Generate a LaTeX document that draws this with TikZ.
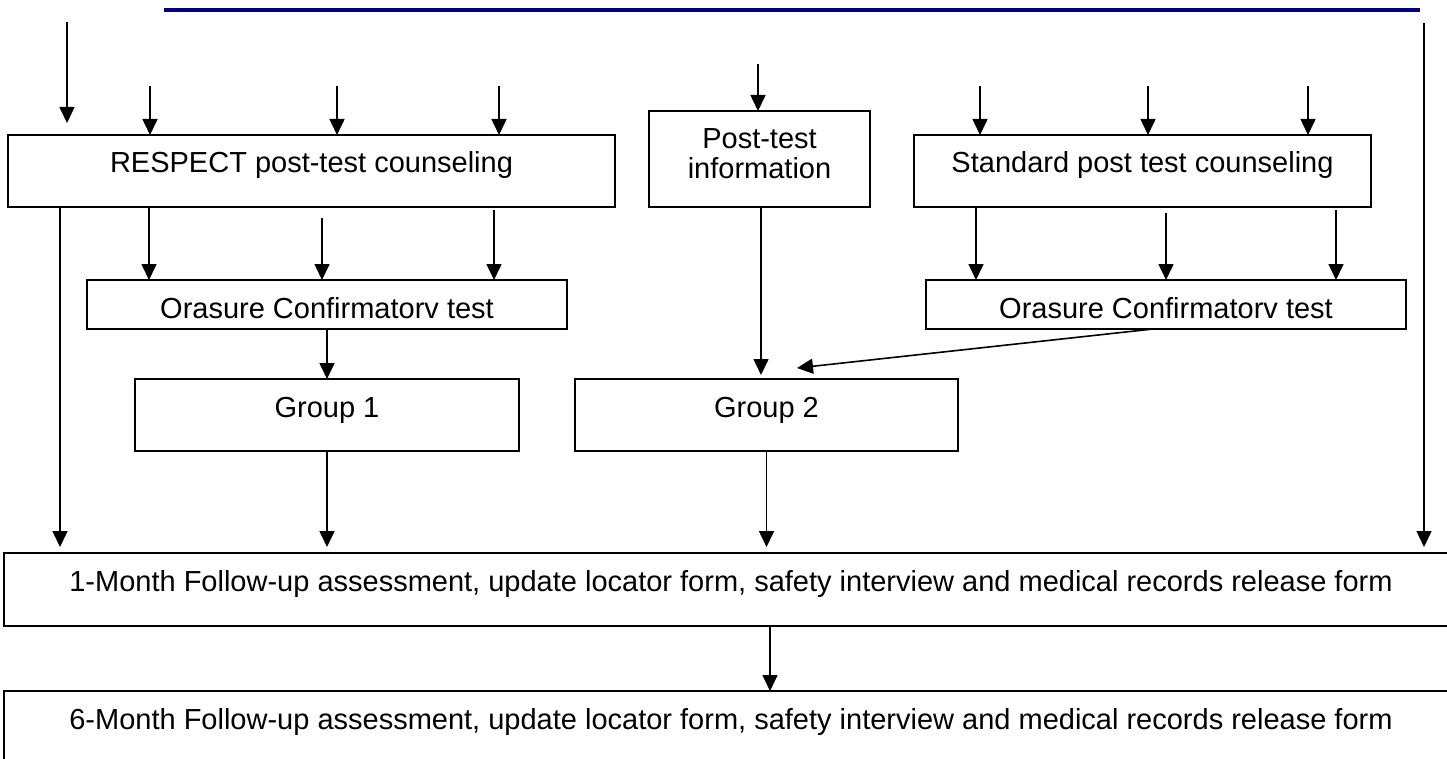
\documentclass[tikz,border=0pt]{standalone}
\usepackage{fontspec}
\setmainfont{Liberation Sans}
\usepackage{tikz}
\usetikzlibrary{arrows.meta,positioning}
\definecolor{rulenavy}{RGB}{0,0,128}
\tikzstyle{box} = [draw, line width=1.8pt, inner sep=0pt, outer sep=0pt, anchor=north west, text height=38pt, font=\fontsize{29}{30}\selectfont]
\tikzstyle{bigbox} = [box, line width=2.3pt]
\tikzstyle{arrow} = [line width=1.6pt, -{Triangle[length=16pt,width=15pt]}]

\begin{document}
\begin{tikzpicture}[x=1pt,y=-1pt]
  \useasboundingbox (0,0) rectangle (1447,759);
  \draw[rulenavy, line width=4pt] (164,10) -- (1420,10);

  \node[box, minimum width=607pt, text depth=34pt] (respect) at (8,135) {RESPECT post-test counseling};
  \node[box, text width=221pt, align=center, text depth=58pt] (postinfo) at (649,111) {Post-test\\information};
  \node[box, minimum width=457pt, text depth=34pt] (standard) at (914,135) {Standard post test counseling};
  \node[box, minimum width=480pt, text depth=11pt] (ora1) at (87,280) {Orasure Confirmatorv test};
  \node[box, minimum width=480pt, text depth=11pt] (ora2) at (926,280) {Orasure Confirmatorv test};
  \node[box, minimum width=384pt, text depth=34pt] (group1) at (135,379) {Group 1};
  \node[box, minimum width=383pt, text depth=34pt] (group2) at (575,379) {Group 2};
  \node[bigbox, minimum width=1454pt, text depth=35pt] (month1) at (4,553)
      {1-Month Follow-up assessment, update locator form, safety interview and medical records release form};
  \node[bigbox, minimum width=1454pt, text depth=35pt] (month6) at (4,691)
      {6-Month Follow-up assessment, update locator form, safety interview and medical records release form};

  \coordinate (lin) at (67,22);
  \coordinate (linend) at (67,123);
  \draw[arrow] (lin) -- (linend);

  \coordinate (rin) at (1424,23);
  \draw[arrow, shorten >=6pt] (rin) -- (rin |- month1.north);

  \coordinate (lout) at (60,0);
  \draw[arrow, shorten >=6pt] (respect.south -| lout) -- (month1.north -| lout);

  \foreach \x [count=\i] in {150,337,499} {
    \coordinate (rtop\i) at (\x,86);
    \draw[arrow] (rtop\i) -- (rtop\i |- respect.north);
  }
  \foreach \x [count=\i] in {980,1148,1308} {
    \coordinate (stop\i) at (\x,86);
    \draw[arrow] (stop\i) -- (stop\i |- standard.north);
  }
  \coordinate (ptop) at (758,64);
  \draw[arrow] (ptop) -- (ptop |- postinfo.north);

  \foreach \x/\g [count=\i] in {149/0, 322/11, 494/3} {
    \coordinate (rout\i) at (\x,207+\g);
    \draw[arrow] (rout\i) -- (rout\i |- ora1.north);
  }
  \foreach \x/\g [count=\i] in {976/0, 1166/6, 1336/3} {
    \coordinate (sout\i) at (\x,207+\g);
    \draw[arrow] (sout\i) -- (sout\i |- ora2.north);
  }

  \draw[arrow, shorten >=4pt] (postinfo.south -| 761,0) -- (group2.north -| 761,0);
  \coordinate (g2in) at (797,368);
  \draw[arrow] ([xshift=-13pt]ora2.south) -- (g2in);
  \draw[arrow] (ora1.south) -- (group1.north);

  \draw[arrow, shorten >=6pt] (group1.south) -- (group1.south |- month1.north);
  \draw[arrow, shorten >=6pt] (group2.south) -- (group2.south |- month1.north);
  \draw[arrow] (month1.south -| 770,0) -- (month6.north -| 770,0);
\end{tikzpicture}
\end{document}
